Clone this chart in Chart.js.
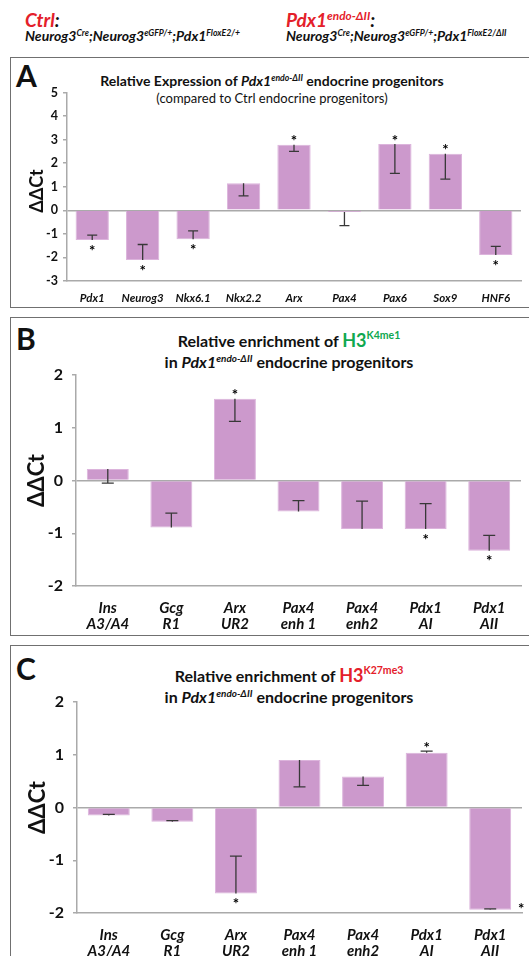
<!DOCTYPE html>
<html><head><meta charset="utf-8">
<script src="https://cdn.jsdelivr.net/npm/chart.js@4"></script>
<style>
html,body{margin:0;padding:0;background:#fff;}
body{width:529px;height:956px;overflow:hidden;position:relative;font-family:Lato,"Open Sans",sans-serif;color:#111;}
.abs{position:absolute;white-space:nowrap;}
.box{position:absolute;border:1.5px solid #707070;box-sizing:border-box;}
.sup{font-size:0.62em;position:relative;top:-0.62em;}
.red{color:#e4202a;}
.green{color:#10a84f;}
.ctr{text-align:center;}
canvas{position:absolute;}
</style></head>
<body>
<!-- header -->
<div class="abs" style="left:25px;top:8px;font:italic 700 19px/24px Lato;"><span class="red">Ctrl</span>:</div>
<div class="abs" style="left:25px;top:27px;font:italic 700 14px/17px Lato;">Neurog3<span class="sup">Cre</span>;Neurog3<span class="sup">eGFP/+</span>;Pdx1<span class="sup">FloxE2/+</span></div>
<div class="abs" style="left:286px;top:8px;font:italic 700 19px/24px Lato;"><span class="red">Pdx1<span class="sup">endo-ΔII</span></span>:</div>
<div class="abs" style="left:286px;top:27px;font:italic 700 14px/17px Lato;">Neurog3<span class="sup">Cre</span>;Neurog3<span class="sup">eGFP/+</span>;Pdx1<span class="sup">FloxE2/ΔII</span></div>

<!-- panel boxes -->
<div class="box" style="left:10px;top:57px;width:540px;height:251px;"></div>
<div class="box" style="left:10px;top:317px;width:540px;height:319px;"></div>
<div class="box" style="left:10px;top:645px;width:540px;height:330px;"></div>

<!-- panel letters -->
<div class="abs" style="left:16px;top:58px;font:700 30px/34px Lato;">A</div>
<div class="abs" style="left:16px;top:321px;font:700 30px/34px Lato;">B</div>
<div class="abs" style="left:16px;top:651px;font:700 30px/34px Lato;">C</div>

<!-- titles -->
<div class="abs ctr" style="left:10px;width:524px;top:71px;font:700 14px/19px Lato;">Relative Expression of <i>Pdx1</i><i class="sup">endo-ΔII</i> endocrine progenitors</div>
<div class="abs ctr" style="left:10px;width:524px;top:90px;font:400 13px/16px Lato;">(compared to Ctrl endocrine progenitors)</div>

<div class="abs ctr" style="left:10px;width:558px;top:330px;font:700 16px/20px Lato;">Relative enrichment of <span class="green" style="font-size:18px;">H3<span class="sup" style="font-size:10.5px;top:-0.8em;">K4me1</span></span></div>
<div class="abs ctr" style="left:10px;width:558px;top:352px;font:700 16px/20px Lato;">in <i>Pdx1</i><i class="sup">endo-ΔII</i> endocrine progenitors</div>

<div class="abs ctr" style="left:10px;width:558px;top:665px;font:700 16px/20px Lato;">Relative enrichment of <span class="red" style="font-size:18px;">H3<span class="sup" style="font-size:10.5px;top:-0.8em;">K27me3</span></span></div>
<div class="abs ctr" style="left:10px;width:558px;top:687px;font:700 16px/20px Lato;">in <i>Pdx1</i><i class="sup">endo-ΔII</i> endocrine progenitors</div>

<canvas id="cA" width="519" height="250" style="left:10px;top:57px;"></canvas>
<canvas id="cB" width="519" height="318" style="left:10px;top:317px;"></canvas>
<canvas id="cC" width="519" height="311" style="left:10px;top:645px;"></canvas>

<script>
// ---------- Panel A: relative expression ----------
const catsA = ['Pdx1','Neurog3','Nkx6.1','Nkx2.2','Arx','Pax4','Pax6','Sox9','HNF6'];
const valsA = [-1.26,-2.11,-1.23,1.15,2.78,-0.07,2.81,2.40,-1.90];
const errEndA = [-1.05,-1.45,-0.87,0.61,2.50,-0.65,1.57,1.32,-1.53];
const sigA = ['below','below','below','','above','','above','above','below'];
const ticksA = [5,4,3,2,1,0,-1,-2,-3];

// ---------- Panels B and C: shared loci ----------
const lociTop = ['Ins','Gcg','Arx','Pax4','Pax4','Pdx1','Pdx1'];
const lociBottom = ['A3/A4','R1','UR2','enh 1','enh2','AI','AII'];
const ticksBC = [2,1,0,-1,-2];

// Panel B: H3K4me1
const valsB = [0.22,-0.89,1.55,-0.59,-0.92,-0.92,-1.33];
const errEndB = [-0.05,-0.62,1.12,-0.38,-0.39,-0.44,-1.04];
const sigB = ['','','above','','','below','below'];

// Panel C: H3K27me3
const valsC = [-0.15,-0.27,-1.63,0.90,0.59,1.04,-1.94];
const errEndC = [-0.13,-0.25,-0.92,0.39,0.42,1.07,-1.92];
const sigC = ['','','below','','','above','right'];

const errPlugin = {
  id: 'errs',
  afterDatasetsDraw(chart, args, opts) {
    const ctx = chart.ctx, y = chart.scales.y;
    const meta = chart.getDatasetMeta(0);
    const vals = chart.data.datasets[0].data;
    ctx.save();
    meta.data.forEach((bar, i) => {
      const cx = bar.x;
      const yv = y.getPixelForValue(vals[i]);
      const ye = y.getPixelForValue(opts.ends[i]);
      ctx.strokeStyle = '#383838';
      ctx.lineWidth = 1.3;
      ctx.beginPath();
      ctx.moveTo(cx, yv); ctx.lineTo(cx, ye);
      ctx.moveTo(cx - opts.cap, ye); ctx.lineTo(cx + opts.cap, ye);
      ctx.stroke();
      const s = opts.sig[i];
      if (s) {
        let sx = cx, sy;
        if (s === 'above') sy = Math.min(yv, ye) - opts.gap;
        else if (s === 'below') sy = Math.max(yv, ye) + opts.gap;
        else { sx = bar.x + bar.width / 2 + 10; sy = yv - 4; }
        ctx.fillStyle = '#000';
        ctx.font = 'bold 15px Lato';
        ctx.textAlign = 'center';
        ctx.textBaseline = 'alphabetic';
        ctx.fillText('*', sx, sy + 8.5);
      }
    });
    ctx.restore();
  }
};

function makeChart(id, labels, vals, ends, sig, tickVals, o) {
  return new Chart(document.getElementById(id), {
    type: 'bar',
    data: { labels: labels, datasets: [{
      data: vals, backgroundColor: '#cc99cc', borderColor: '#dcb4dc', borderWidth: 1,
      categoryPercentage: 1, barPercentage: 0.66 }] },
    options: {
      responsive: false, animation: false, devicePixelRatio: 1,
      layout: { padding: { top: o.padTop, right: o.padRight, left: 0, bottom: 0 } },
      plugins: { legend: { display: false }, tooltip: { enabled: false },
                 errs: { ends: ends, sig: sig, cap: o.cap, gap: 7 } },
      scales: {
        x: {
          grid: { display: false },
          border: { display: true, color: '#aaaaaa', width: 1.5 },
          ticks: { color: '#111', maxRotation: 0, autoSkip: false, padding: o.xPad,
                   font: { family: 'Lato', size: o.xFont, weight: 'bold', style: 'italic', lineHeight: o.xLH } },
          afterFit: s => { s.height = o.xH; }
        },
        y: {
          min: tickVals[tickVals.length - 1], max: tickVals[0],
          afterBuildTicks: s => { s.ticks = tickVals.map(v => ({ value: v })); },
          ticks: { color: '#111', padding: o.yPad, font: { family: 'Lato', size: o.yFont, weight: 'bold' } },
          grid: { color: c => (c.tick && c.tick.value === 0) ? '#aaaaaa' : 'rgba(0,0,0,0)',
                  lineWidth: 1.5, tickColor: '#aaaaaa', tickLength: 4, drawTicks: true },
          border: { display: true, color: '#aaaaaa', width: 1.5 },
          title: { display: true, text: o.yTitle, color: '#111',
                   font: { family: 'Lato', size: o.tFont, weight: 'bold' }, padding: { top: o.tPad, bottom: 0 } },
          afterFit: s => { s.width = o.yW; }
        }
      }
    },
    plugins: [errPlugin]
  });
}

const labelsBC = lociTop.map((t, i) => [t, lociBottom[i]]);

makeChart('cA', catsA, valsA, errEndA, sigA, ticksA,
  { yTitle: 'ΔΔCt  ', padTop: 35.5, padRight: 8, xH: 26, yW: 57, yFont: 12.5, yPad: 5, tFont: 18, tPad: 16.5,
    xFont: 11.5, xLH: 1.2, xPad: 2, cap: 5 });
makeChart('cB', labelsBC, valsB, errEndB, sigB, ticksBC,
  { yTitle: 'ΔΔCt', padTop: 58, padRight: 8, xH: 49, yW: 66, yFont: 16, yPad: 9, tFont: 22, tPad: 14,
    xFont: 15, xLH: '16px', xPad: 6, cap: 6 });
makeChart('cC', labelsBC, valsC, errEndC, sigC, ticksBC,
  { yTitle: 'ΔΔCt', padTop: 57, padRight: 7, xH: 43, yW: 67, yFont: 16, yPad: 9, tFont: 22, tPad: 15,
    xFont: 15, xLH: '16px', xPad: 6, cap: 6 });
</script>
</body></html>
